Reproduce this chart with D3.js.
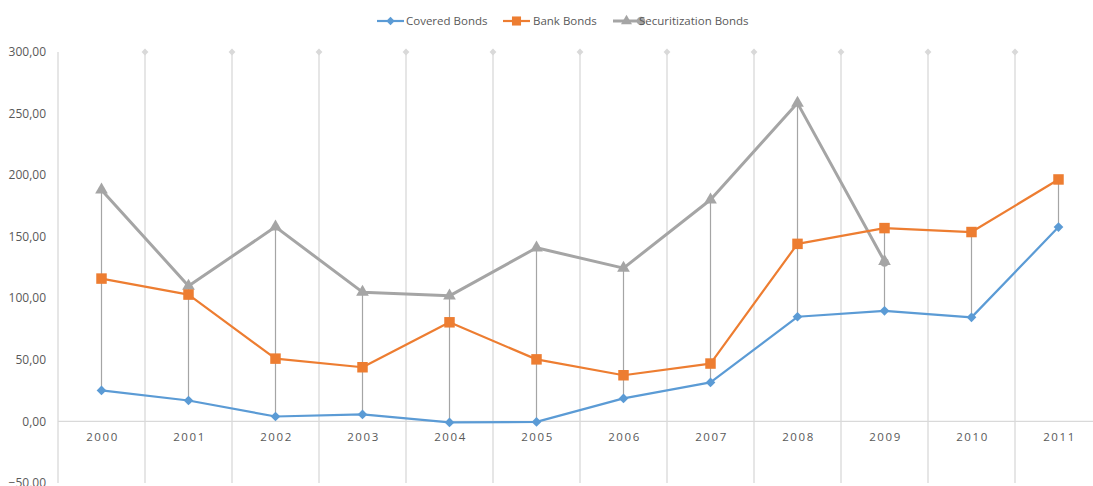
<!DOCTYPE html>
<html>
<head>
<meta charset="utf-8">
<script src="https://cdn.jsdelivr.net/npm/d3@7/dist/d3.min.js"></script>
<style>
  html, body { margin: 0; padding: 0; background: #ffffff; }
  svg { display: block; }
  text { font-family: "Open Sans", "Liberation Sans", sans-serif; fill: #595959; }
</style>
</head>
<body>
<svg id="chart" width="1093" height="486"></svg>
<script>
// Bond issuance by year (values per series)
const years = ["2000","2001","2002","2003","2004","2005","2006","2007","2008","2009","2010","2011"];
const coveredBonds = [25.2, 17.0, 4.0, 5.7, -0.8, -0.4, 18.7, 31.7, 85.0, 89.8, 84.5, 157.8];
const bankBonds = [116.0, 103.0, 51.0, 44.0, 80.5, 50.4, 37.5, 47.0, 144.2, 157.0, 153.8, 196.5];
const securitizationBonds = [188.0, 110.0, 158.0, 105.0, 102.0, 141.0, 124.5, 180.0, 258.5, 130.0, null, null];
const yTicks = [-50, 0, 50, 100, 150, 200, 250, 300];
const seriesNames = ["Covered Bonds", "Bank Bonds", "Securitization Bonds"];

const svg = d3.select("#chart");
const plotTop = 52, plotBottom = 483, plotLeft = 58;

const x = d3.scaleBand().domain(years).range([plotLeft, plotLeft + 87 * years.length]).paddingInner(0).paddingOuter(0);
const y = d3.scaleLinear().domain([-50, 300]).range([plotBottom, plotTop]);
const cx = d => x(d) + x.bandwidth() / 2;

const fmt = v => d3.format(".2f")(v).replace(".", ",");

// Category boundary gridlines
const bounds = years.map(d => x(d));
svg.append("g").selectAll("line").data(bounds).join("line")
  .attr("x1", d => d).attr("x2", d => d)
  .attr("y1", plotTop).attr("y2", plotBottom)
  .attr("stroke", "#d9d9d9").attr("stroke-width", 1.3);

// Small diamonds capping the inner gridlines
svg.append("g").selectAll("path").data(bounds.slice(1)).join("path")
  .attr("d", d3.symbol(d3.symbolDiamond2, 30)())
  .attr("transform", d => `translate(${d},${plotTop})`)
  .attr("fill", "#d9d9d9");

// Zero baseline
svg.append("line")
  .attr("x1", plotLeft).attr("x2", 1093)
  .attr("y1", y(0)).attr("y2", y(0))
  .attr("stroke", "#d9d9d9").attr("stroke-width", 1.3);

// Y axis labels
svg.append("g").selectAll("text").data(yTicks).join("text")
  .attr("x", 46).attr("y", d => y(d))
  .attr("dy", "0.35em").attr("text-anchor", "end")
  .attr("font-size", 12)
  .text(fmt);

// X axis labels
svg.append("g").selectAll("text").data(years).join("text")
  .attr("x", d => cx(d) + 1).attr("y", 437)
  .attr("dy", "0.35em").attr("text-anchor", "middle")
  .attr("font-size", 11.5).attr("letter-spacing", "1.6px")
  .text(d => d);

// High-low lines across all series
const hl = years.map((yr, i) => {
  const vals = [coveredBonds[i], bankBonds[i], securitizationBonds[i]].filter(v => v !== null);
  return { yr, hi: d3.max(vals), lo: d3.min(vals) };
});
svg.append("g").selectAll("line").data(hl).join("line")
  .attr("x1", d => cx(d.yr)).attr("x2", d => cx(d.yr))
  .attr("y1", d => y(d.hi)).attr("y2", d => y(d.lo))
  .attr("stroke", "#a5a5a5").attr("stroke-width", 1.2);

const series = [
  { name: seriesNames[0], values: coveredBonds, color: "#5b9bd5", width: 2.2, symbol: d3.symbolDiamond2, size: 60 },
  { name: seriesNames[1], values: bankBonds, color: "#ed7d31", width: 2.2, symbol: d3.symbolSquare, size: 110 },
  { name: seriesNames[2], values: securitizationBonds, color: "#a5a5a5", width: 3, symbol: d3.symbolTriangle, size: 70 }
];

const line = d3.line()
  .defined(d => d.v !== null)
  .x(d => cx(d.yr)).y(d => y(d.v));

// Draw in reverse so covered bonds sit on top
[...series].reverse().forEach(s => {
  const pts = years.map((yr, i) => ({ yr, v: s.values[i] }));
  svg.append("path").datum(pts)
    .attr("d", line).attr("fill", "none")
    .attr("stroke", s.color).attr("stroke-width", s.width)
    .attr("stroke-linejoin", "round");
  svg.append("g").selectAll("path").data(pts.filter(d => d.v !== null)).join("path")
    .attr("d", d3.symbol(s.symbol, s.size)())
    .attr("transform", d => `translate(${cx(d.yr)},${y(d.v)})`)
    .attr("fill", s.color);
});

// Rounded cap on the last securitization point
let lastIdx = 0;
securitizationBonds.forEach((v, i) => { if (v !== null) lastIdx = i; });
svg.append("circle")
  .attr("cx", cx(years[lastIdx])).attr("cy", y(securitizationBonds[lastIdx]) + 1)
  .attr("r", 4.3).attr("fill", "#a5a5a5");

// Legend
const legendItems = [
  { s: series[0], lx: 377, tx: 406 },
  { s: series[1], lx: 503, tx: 533 },
  { s: series[2], lx: 613, tx: 639 }
];
const lg = svg.append("g");
legendItems.forEach((it, i) => {
  const ly = 21;
  lg.append("line")
    .attr("x1", it.lx).attr("x2", it.lx + 27)
    .attr("y1", ly).attr("y2", ly)
    .attr("stroke", it.s.color).attr("stroke-width", it.s.width);
  lg.append("path")
    .attr("d", d3.symbol(it.s.symbol, it.s.size * 0.75)())
    .attr("transform", `translate(${it.lx + 13.5},${ly})`)
    .attr("fill", it.s.color);
  if (i === 2) {
    lg.append("circle").attr("cx", it.lx + 28).attr("cy", ly).attr("r", 4.3).attr("fill", it.s.color);
  }
  lg.append("text")
    .attr("x", it.tx).attr("y", ly).attr("dy", "0.35em")
    .attr("font-size", 11.5)
    .text(it.s.name);
});
</script>
</body>
</html>
